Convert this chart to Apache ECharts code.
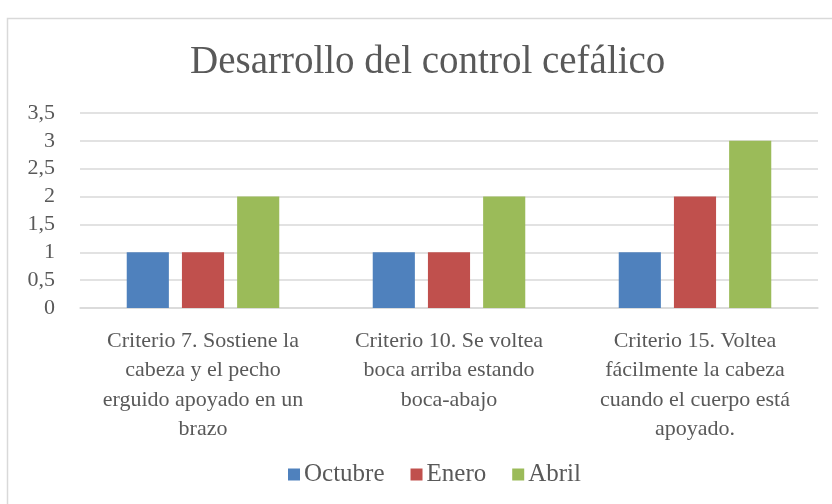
<!DOCTYPE html>
<html>
<head>
<meta charset="utf-8">
<script src="https://cdn.jsdelivr.net/npm/echarts@6/dist/echarts.min.js"></script>
<style>
  html, body { margin: 0; padding: 0; background: #fff; }
  #chart { width: 832px; height: 504px; }
</style>
</head>
<body>
<div id="chart"></div>
<script>
// datos del gráfico
const categories = [
  'Criterio 7. Sostiene la\ncabeza y el pecho\nerguido apoyado en un\nbrazo',
  'Criterio 10. Se voltea\nboca arriba estando\nboca-abajo',
  'Criterio 15. Voltea\nfácilmente la cabeza\ncuando el cuerpo está\napoyado.'
];
const octubre = [1, 1, 1];
const enero = [1, 1, 2];
const abril = [2, 2, 3];
const yTicks = [0, 0.5, 1, 1.5, 2, 2.5, 3, 3.5];

const textColor = '#595959';
const font = '"Liberation Serif", "DejaVu Serif", serif';

const chart = echarts.init(document.getElementById('chart'));
const option = {
  backgroundColor: '#fff',
  animation: false,
  title: {
    text: 'Desarrollo del control cefálico',
    left: 190,
    top: 43,
    padding: 0,
    textStyle: { fontFamily: font, fontSize: 39, fontWeight: 'normal', color: textColor }
  },
  legend: {
    top: 462,
    left: 288,
    padding: 0,
    icon: 'rect',
    itemWidth: 12,
    itemHeight: 12,
    itemGap: 26,
    textStyle: { fontFamily: font, fontSize: 25, color: textColor, padding: [0, 0, 0, -1] },
    data: ['Octubre', 'Enero', 'Abril']
  },
  grid: { left: 80, right: 14, top: 113, bottom: 196 },
  xAxis: {
    type: 'category',
    data: categories,
    axisTick: { show: false },
    axisLine: { lineStyle: { color: '#d9d9d9', width: 1.5 } },
    axisLabel: {
      interval: 0,
      margin: 18,
      fontFamily: font,
      fontSize: 22,
      lineHeight: 29.5,
      color: textColor,
      align: 'center'
    }
  },
  yAxis: {
    type: 'value',
    min: yTicks[0],
    max: yTicks[yTicks.length - 1],
    interval: 0.5,
    axisLine: { show: false },
    axisTick: { show: false },
    splitLine: { lineStyle: { color: '#d9d9d9', width: 1.5 } },
    axisLabel: {
      margin: 25,
      fontFamily: font,
      fontSize: 22,
      color: textColor,
      formatter: v => String(v).replace('.', ',')
    }
  },
  series: [
    { name: 'Octubre', type: 'bar', data: octubre, barGap: '31%', barCategoryGap: '38%',
      itemStyle: { color: '#4f81bd' } },
    { name: 'Enero', type: 'bar', data: enero, itemStyle: { color: '#c0504d' } },
    { name: 'Abril', type: 'bar', data: abril, itemStyle: { color: '#9bbb59' } }
  ],
  graphic: [{
    type: 'rect',
    left: 5, top: 16,
    shape: { width: 840, height: 500 },
    style: { fill: 'none', stroke: '#d9d9d9', lineWidth: 1.5 },
    silent: true
  }]
};
chart.setOption(option);
</script>
</body>
</html>
